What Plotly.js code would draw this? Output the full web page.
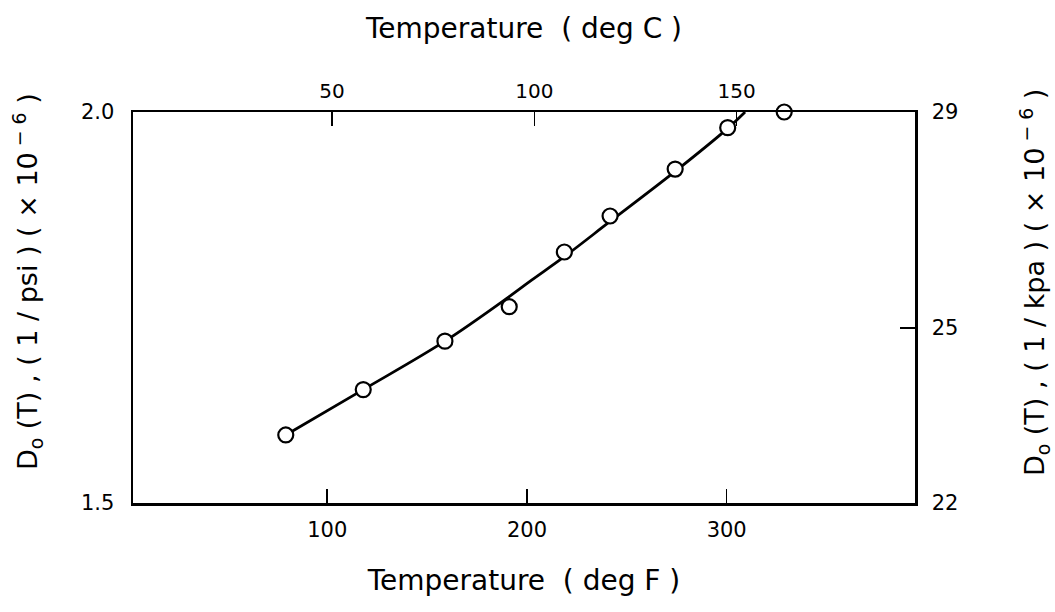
<!DOCTYPE html>
<html>
<head>
<meta charset="utf-8">
<script src="https://cdn.plot.ly/plotly-3.0.1.min.js"></script>
<style>html,body{margin:0;padding:0;background:#fff;}#chart{width:1055px;height:612px;}</style>
</head>
<body>
<div id="chart"></div>
<script>
// Measured points: temperature (deg F) and D0(T) in 1/psi (x 10^-6)
const tempF = [79.2, 118.0, 158.9, 191.1, 218.7, 241.6, 274.2, 300.5, 328.8];
const dPsi  = [1.587, 1.645, 1.707, 1.751, 1.821, 1.867, 1.927, 1.980, 2.0];
// Fitted curve
const curveF = [79.2, 118.0, 158.9, 191.1, 202.3, 218.7, 241.6, 274.2, 300.5, 309.2];
const curveD = [1.587, 1.645, 1.707, 1.764, 1.785, 1.815, 1.860, 1.924, 1.979, 2.0];
// Tick labels
const bottomTicks = [100, 200, 300];
const topTicksC = [50, 100, 150];
const leftTickVals = [1.5, 2.0];
const leftTickText = ['1.5', '2.0'];
const rightTickVals = [1.5, 1.724, 2.0];
const rightTickText = ['22', '25', '29'];
const leftTitle = 'D<sub>o</sub> (T) , ( 1 / psi ) ( × 10<sup> − 6</sup> )';
const rightTitle = 'D<sub>o</sub> (T) , ( 1 / kpa ) ( × 10<sup> − 6</sup> )';

const FONT = 'DejaVu Sans, sans-serif';
const lw = 2.5;

const traces = [
  {x: curveF, y: curveD, mode: 'lines', line: {color: '#000', width: 2.8, shape: 'spline', smoothing: 1},
   hoverinfo: 'skip', showlegend: false, cliponaxis: true},
  {x: tempF, y: dPsi, mode: 'markers', cliponaxis: false, showlegend: false,
   marker: {symbol: 'circle', size: 15, color: '#fff', line: {color: '#000', width: 2.2}}},
  {x: [null], y: [null], xaxis: 'x2', yaxis: 'y2', mode: 'markers', showlegend: false, hoverinfo: 'skip'}
];

const layout = {
  width: 1055, height: 612,
  margin: {l: 133, r: 140, t: 112, b: 109},
  paper_bgcolor: '#fff', plot_bgcolor: '#fff',
  font: {family: FONT, size: 20, color: '#000'},
  showlegend: false,
  xaxis: {
    range: [2.7, 394.3], tickvals: bottomTicks, ticks: 'inside', ticklen: 14, tickwidth: 1.6, tickcolor: '#000',
    showline: true, linecolor: '#000', linewidth: lw, showgrid: false, zeroline: false,
    tickfont: {family: FONT, size: 21}, ticklabelstandoff: 6,
    title: {text: 'Temperature  ( deg F )', font: {family: FONT, size: 28}, standoff: 30}
  },
  xaxis2: {
    overlaying: 'x', side: 'top', anchor: 'y', range: [0.8, 194.1], tickvals: topTicksC,
    ticks: 'inside', ticklen: 14, tickwidth: 1.6, tickcolor: '#000',
    showline: true, linecolor: '#000', linewidth: lw, showgrid: false, zeroline: false,
    tickfont: {family: FONT, size: 20}, ticklabelstandoff: 4,
    title: {text: 'Temperature  ( deg C )', font: {family: FONT, size: 28}, standoff: 32}
  },
  yaxis: {
    range: [1.5, 2.0], tickvals: leftTickVals, ticktext: leftTickText, ticks: '',
    showline: true, linecolor: '#000', linewidth: lw, showgrid: false, zeroline: false,
    tickfont: {family: FONT, size: 21}, ticklabelstandoff: 12
  },
  yaxis2: {
    overlaying: 'y', side: 'right', anchor: 'x', range: [1.5, 2.0], tickvals: rightTickVals, ticktext: rightTickText,
    ticks: 'inside', ticklen: 15, tickwidth: 1.6, tickcolor: '#000',
    showline: true, linecolor: '#000', linewidth: lw, showgrid: false, zeroline: false,
    tickfont: {family: FONT, size: 21}, ticklabelstandoff: 10
  },
  annotations: [
    {text: leftTitle, textangle: -90, xref: 'paper', yref: 'paper', x: -0.1355, y: 0.565,
     xanchor: 'center', yanchor: 'middle', showarrow: false, font: {family: FONT, size: 27}},
    {text: rightTitle, textangle: -90, xref: 'paper', yref: 'paper', x: 1.1522, y: 0.565,
     xanchor: 'center', yanchor: 'middle', showarrow: false, font: {family: FONT, size: 27}}
  ]
};

Plotly.newPlot('chart', traces, layout, {displayModeBar: false, staticPlot: true});
</script>
</body>
</html>
